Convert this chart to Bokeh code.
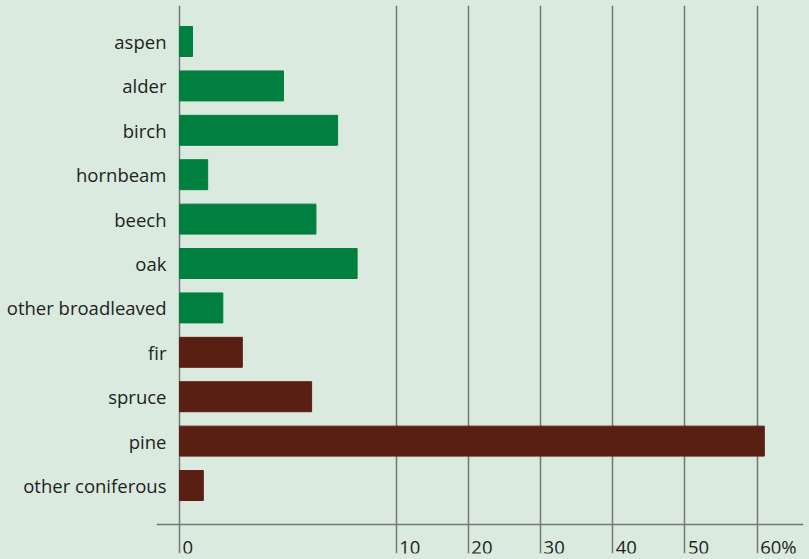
from bokeh.plotting import figure
from bokeh.models import ColumnDataSource, FixedTicker, Range1d, GlobalInlineStyleSheet
from bokeh.embed import file_html
from bokeh.resources import INLINE

# ---- data ----
species = ["aspen", "alder", "birch", "hornbeam", "beech", "oak",
           "other broadleaved", "fir", "spruce", "pine", "other coniferous"]
shares = [0.6, 4.8, 7.3, 1.3, 6.3, 8.2, 2.0, 2.9, 6.1, 61.0, 1.1]
groups = ["broadleaved"] * 7 + ["coniferous"] * 4
tick_values = [0, 10, 20, 30, 40, 50, 60]
tick_labels = ["0", "10", "20", "30", "40", "50", "60%"]

# broken scale: 0-10 stretched 3x
BREAK = 10
STRETCH = 3


def scale(v):
    return v * STRETCH if v <= BREAK else BREAK * STRETCH + (v - BREAK)


BG = "#dbeadf"
GRID = "#737874"
TEXT = "#222222"
FONT = "Open Sans"
FS = "18.5px"
colors = {"broadleaved": "#007f3f", "coniferous": "#5a1f13"}

src = ColumnDataSource(dict(
    y=list(range(len(species))),
    right=[scale(v) for v in shares],
    color=[colors[g] for g in groups],
))

p = figure(width=809, height=559, output_backend="svg", toolbar_location=None,
           x_range=Range1d(-3.186, 86.43), y_range=Range1d(11.531, -0.811),
           min_border_left=156, min_border_right=6, min_border_top=5,
           min_border_bottom=6)
p.stylesheets = [GlobalInlineStyleSheet(css="html, body { background: %s; }" % BG)]
p.background_fill_color = BG
p.border_fill_color = BG
p.outline_line_color = None

p.hbar(y="y", left=0, right="right", height=0.675, color="color", source=src)

xt = [scale(v) for v in tick_values]
p.xaxis.fixed_location = 10.878
p.xaxis.ticker = FixedTicker(ticks=xt)
p.xaxis.major_label_overrides = {t: "\u2009" + l for t, l in zip(xt, tick_labels)}
p.xaxis.axis_line_color = GRID
p.xaxis.axis_line_width = 1.5
p.xaxis.major_tick_line_color = None
p.xaxis.major_tick_out = 0
p.xaxis.major_tick_in = 0
p.xaxis.minor_tick_line_color = None
p.xaxis.major_label_standoff = 22
p.xaxis.major_label_orientation = -0.0001
p.xaxis.major_label_text_font = FONT
p.xaxis.major_label_text_font_size = FS
p.xaxis.major_label_text_color = TEXT

p.xgrid.ticker = FixedTicker(ticks=xt)
p.xgrid.grid_line_color = GRID
p.xgrid.grid_line_width = 1.5
p.ygrid.grid_line_color = None

p.yaxis.ticker = FixedTicker(ticks=list(range(len(species))))
p.yaxis.major_label_overrides = {i: s for i, s in enumerate(species)}
p.yaxis.axis_line_color = None
p.yaxis.major_tick_line_color = None
p.yaxis.minor_tick_line_color = None
p.yaxis.major_tick_out = 0
p.yaxis.major_tick_in = 0
p.yaxis.major_label_standoff = -10
p.yaxis.major_label_text_font = FONT
p.yaxis.major_label_text_font_size = FS
p.yaxis.major_label_text_color = TEXT

open("out.html", "w").write(file_html(p, INLINE))
